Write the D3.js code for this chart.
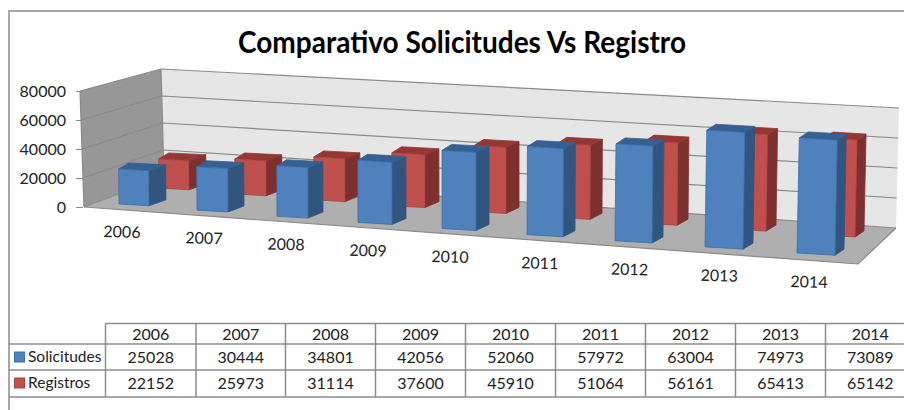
<!DOCTYPE html>
<html>
<head>
<meta charset="utf-8">
<script src="https://cdn.jsdelivr.net/npm/d3@7"></script>
<style>
  html, body { margin: 0; padding: 0; background: #fff; }
  svg { display: block; }
  text { font-family: Lato, "Open Sans", sans-serif; fill: #222; }
</style>
</head>
<body>
<script>
// Data
var years = ["2006", "2007", "2008", "2009", "2010", "2011", "2012", "2013", "2014"];
var solicitudes = [25028, 30444, 34801, 42056, 52060, 57972, 63004, 74973, 73089];
var registros = [22152, 25973, 31114, 37600, 45910, 51064, 56161, 65413, 65142];
var yTicks = [0, 20000, 40000, 60000, 80000];

var w = 904;
var h = 410;

var svg = d3.select("body")
            .append("svg")
            .attr("width", w)
            .attr("height", h);

// Chart frame
svg.append("path")
   .attr("d", "M9,410V11H904")
   .attr("fill", "none")
   .attr("stroke", "#8c8c8c")
   .attr("stroke-width", 1.5);

svg.append("text")
   .attr("x", 462)
   .attr("y", 53)
   .attr("text-anchor", "middle")
   .attr("font-size", 31)
   .attr("font-weight", 700)
   .attr("textLength", 448)
   .attr("lengthAdjust", "spacingAndGlyphs")
   .style("fill", "#000")
   .text("Comparativo Solicitudes Vs Registro");

// Value scales for the three vertical edges of the box
var yFront = d3.scaleLinear().domain([0, 80000]).range([207, 91]);
var yBackLeft = d3.scaleLinear().domain([0, 80000]).range([177, 69]);
var yBackRight = d3.scaleLinear().domain([0, 80000]).range([228, 108]);

// x of the box corners
var xFront = d3.scaleLinear().domain([0, 80000]).range([84, 80]);
var xBackLeft = d3.scaleLinear().domain([0, 80000]).range([164, 161]);
var xBackRight = d3.scaleLinear().domain([0, 80000]).range([896, 899]);

function poly(points) {
  return "M" + points.map(function(p) { return p[0] + "," + p[1]; }).join("L") + "Z";
}

// Walls and floor
svg.append("path")
   .attr("d", poly([[xFront(0), yFront(0)], [xFront(80000), yFront(80000)],
                    [xBackLeft(80000), yBackLeft(80000)], [xBackLeft(0), yBackLeft(0)]]))
   .attr("fill", "#979797");

svg.append("path")
   .attr("d", poly([[xBackLeft(0), yBackLeft(0)], [xBackLeft(80000), yBackLeft(80000)],
                    [xBackRight(80000), yBackRight(80000)], [xBackRight(0), yBackRight(0)]]))
   .attr("fill", "#e6e6e6");

svg.append("path")
   .attr("d", poly([[xFront(0), yFront(0)], [xBackLeft(0), yBackLeft(0)],
                    [xBackRight(0), yBackRight(0)], [858, 264]]))
   .attr("fill", "#afafaf");

// Gridlines on both walls
var grid = svg.append("g")
              .attr("fill", "none")
              .attr("stroke", "#8a8a8a")
              .attr("stroke-width", 1.2);

yTicks.forEach(function(t) {
  grid.append("path")
      .attr("d", "M" + xFront(t) + "," + yFront(t) +
                 "L" + xBackLeft(t) + "," + yBackLeft(t) +
                 "L" + xBackRight(t) + "," + yBackRight(t));
});

grid.append("path").attr("d", "M" + xFront(0) + "," + yFront(0) + "L" + xFront(80000) + "," + yFront(80000));
grid.append("path").attr("d", "M" + xBackLeft(0) + "," + yBackLeft(0) + "L" + xBackLeft(80000) + "," + yBackLeft(80000));
grid.append("path").attr("d", "M" + xFront(0) + "," + yFront(0) + "L858,264L" + xBackRight(0) + "," + yBackRight(0));

// Value axis
var yAxis = svg.append("g")
               .attr("transform", "translate(83, 0)")
               .call(d3.axisLeft(yFront).tickValues(yTicks).tickSize(7).tickPadding(10).tickFormat(d3.format("d")));

yAxis.select(".domain").remove();
yAxis.selectAll("line").attr("stroke", "#8a8a8a");
yAxis.selectAll("text")
     .attr("font-size", 16)
     .style("font-family", "Lato, sans-serif");

// Layout of the bars along the years (the picture is in perspective, so it is not even)
var slots = d3.range(9);
var stops = [0, 4, 8];
var blueLeft = d3.scaleOrdinal().domain(slots).range([119, 197, 277, 358, 442, 527, 615, 705, 797]);
var blueWidth = d3.scaleOrdinal().domain(slots).range([30, 31, 31, 34, 34, 36, 37, 38, 38]);
var blueBase = d3.scaleLinear().domain([0, 8]).range([204, 253]);
var blueUnit = d3.scaleLinear().domain(stops).range([112, 120, 126]);

var redLeft = d3.scaleOrdinal().domain(slots).range([159, 235, 314, 392, 474, 557, 644, 733, 822]);
var redWidth = d3.scaleOrdinal().domain(slots).range([30, 31, 31, 33, 32, 33, 33, 33, 33]);
var redBase = d3.scaleLinear().domain([0, 8]).range([188, 235]);
var redUnit = d3.scaleLinear().domain(stops).range([105, 115, 119]);

var depthLeft = d3.scaleLinear().domain(stops).range([10, 9.5, 9]);
var depthRight = d3.scaleLinear().domain(stops).range([17, 13, 9]);
var lean = d3.scaleLinear().domain(stops).range([-1, 0, 2.5]);

function drawBars(values, left, width, base, unit, colors) {
  var g = svg.append("g").attr("stroke-width", 0.8).attr("stroke-linejoin", "round");

  values.forEach(function(v, i) {
    var x = left(i);
    var x2 = x + width(i);
    var y = base(i);
    var y2 = y + width(i) * 0.06;
    var bh = v / 80000 * unit(i);
    var l = v / 80000 * lean(i);
    var dl = depthLeft(i);
    var dr = depthRight(i);
    var dy = -6;

    var bl = [x, y], br = [x2, y2];
    var tl = [x + l, y - bh], tr = [x2 + l, y2 - bh];
    var bk = [x2 + dr, y2 + dy];
    var tkr = [x2 + l + dr, y2 - bh + dy];
    var tkl = [x + l + dl, y - bh + dy];

    g.append("path").attr("d", poly([br, tr, tkr, bk])).attr("fill", colors.side).attr("stroke", colors.side);
    g.append("path").attr("d", poly([tl, tr, tkr, tkl])).attr("fill", colors.top).attr("stroke", colors.top);
    g.append("path").attr("d", poly([bl, br, tr, tl])).attr("fill", colors.front).attr("stroke", colors.edge);
  });
}

drawBars(registros, redLeft, redWidth, redBase, redUnit,
         {front: "#c0504d", side: "#7e302e", top: "#953735", edge: "#a8423f"});
drawBars(solicitudes, blueLeft, blueWidth, blueBase, blueUnit,
         {front: "#4f81bd", side: "#31557f", top: "#376092", edge: "#3d6fa8"});

// Year labels under the floor
var labelX = d3.scaleLinear().domain(stops).range([122, 450, 809]);
var labelY = d3.scaleLinear().domain([0, 8]).range([232, 282]);

svg.append("g")
   .selectAll("text")
   .data(years)
   .enter()
   .append("text")
   .attr("x", function(d, i) { return labelX(i); })
   .attr("y", function(d, i) { return labelY(i); })
   .attr("dy", "0.35em")
   .attr("text-anchor", "middle")
   .attr("font-size", 16)
   .attr("transform", function(d, i) { return "rotate(1.5 " + labelX(i) + " " + labelY(i) + ")"; })
   .text(function(d) { return d; });

// Data table
var columnEdges = [105.5, 196, 285.5, 375.5, 465.5, 555.5, 645.5, 735.5, 825.5, 915];
var rowEdges = [323.5, 344, 370, 397];
var rows = [
  {name: "Solicitudes", values: solicitudes, color: "#4f81bd", edge: "#3d6fa8"},
  {name: "Registros", values: registros, color: "#c0504d", edge: "#a8423f"}
];

var table = svg.append("g");

rowEdges.forEach(function(y, i) {
  table.append("line")
       .attr("x1", i == 0 ? columnEdges[0] : 9)
       .attr("x2", w)
       .attr("y1", y)
       .attr("y2", y)
       .attr("stroke", "#8c8c8c")
       .attr("stroke-width", 1.5);
});

columnEdges.forEach(function(x) {
  table.append("line")
       .attr("x1", x)
       .attr("x2", x)
       .attr("y1", rowEdges[0])
       .attr("y2", rowEdges[3])
       .attr("stroke", "#8c8c8c")
       .attr("stroke-width", 1.5);
});

function cell(col, rowY, label) {
  table.append("text")
       .attr("x", (columnEdges[col] + columnEdges[col + 1]) / 2)
       .attr("y", rowY)
       .attr("dy", "0.35em")
       .attr("text-anchor", "middle")
       .attr("font-size", 16)
       .text(label);
}

years.forEach(function(year, i) {
  cell(i, 334, year);
  cell(i, 357, rows[0].values[i]);
  cell(i, 383, rows[1].values[i]);
});

rows.forEach(function(row, r) {
  var cy = r == 0 ? 357 : 383;
  table.append("rect")
       .attr("x", 14.5)
       .attr("y", cy - 5)
       .attr("width", 10)
       .attr("height", 10)
       .attr("fill", row.color)
       .attr("stroke", row.edge);
  table.append("text")
       .attr("x", 28)
       .attr("y", cy)
       .attr("dy", "0.35em")
       .attr("font-size", 15.5)
       .text(row.name);
});
</script>
</body>
</html>
